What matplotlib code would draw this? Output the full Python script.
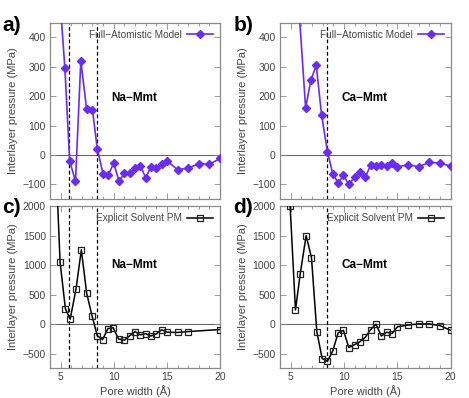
import matplotlib.pyplot as plt
from matplotlib.ticker import MultipleLocator

plt.rcParams['font.family'] = ['Liberation Sans', 'DejaVu Sans']

# Full-atomistic model, Na-Mmt
na_fa_x = [5.0, 5.4, 5.85, 6.4, 6.9, 7.45, 8.0, 8.45, 9.0, 9.5, 10.0, 10.5, 11.0, 11.5,
           12.0, 12.5, 13.0, 13.5, 14.0, 14.5, 15.0, 16.0, 17.0, 18.0, 19.0, 20.0]
na_fa_p = [500, 295, -20, -90, 320, 155, 153, 20, -65, -67, -28, -90, -62, -60,
           -46, -37, -77, -42, -46, -32, -20, -50, -45, -30, -32, -12]

# Full-atomistic model, Ca-Mmt
ca_fa_x = [5.4, 6.4, 6.9, 7.4, 7.9, 8.45, 8.95, 9.45, 9.95, 10.45, 11.0, 11.5, 12.0,
           12.5, 13.0, 13.5, 14.0, 14.5, 15.0, 16.0, 17.0, 18.0, 19.0, 20.0]
ca_fa_p = [700, 160, 255, 305, 135, 10, -65, -95, -70, -100, -75, -58, -75,
           -35, -37, -34, -36, -28, -40, -34, -40, -25, -28, -38]

# Explicit solvent PM, Na-Mmt
na_pm_x = [4.5, 4.95, 5.45, 5.9, 6.45, 6.95, 7.45, 7.95, 8.45, 8.95, 9.45, 9.95, 10.45,
           11.0, 11.5, 12.0, 12.5, 13.0, 13.5, 14.0, 14.5, 15.0, 16.0, 17.0, 20.0]
na_pm_p = [3000, 1050, 265, 90, 600, 1260, 530, 150, -190, -255, -70, -55, -245,
           -265, -190, -120, -175, -155, -195, -160, -90, -130, -135, -120, -85]

# Explicit solvent PM, Ca-Mmt
ca_pm_x = [4.95, 5.45, 5.9, 6.45, 6.95, 7.45, 7.95, 8.45, 8.95, 9.45, 9.95, 10.45, 11.0,
           11.5, 12.0, 12.5, 13.0, 13.5, 14.0, 14.5, 15.0, 16.0, 17.0, 18.0, 19.0, 20.0]
ca_pm_p = [2000, 245, 860, 1500, 1130, -120, -575, -620, -445, -140, -100, -390, -340,
           -290, -215, -85, 5, -195, -130, -155, -40, -10, 10, 10, -20, -100]

na_walls = [5.8, 8.45]
ca_walls = [8.45]

violet = '#6a2cf0'
frame_col = '#8a8a8a'
text_col = '#444444'

fig = plt.figure(figsize=(4.69, 3.98), dpi=100)
ax_a = fig.add_axes([0.1066, 0.500, 0.3625, 0.443])
ax_b = fig.add_axes([0.597, 0.500, 0.364, 0.443])
ax_c = fig.add_axes([0.1066, 0.0761, 0.3625, 0.4063])
ax_d = fig.add_axes([0.597, 0.0761, 0.364, 0.4063])


def style(ax, ylim, yticks, show_x):
    ax.set_xlim(4, 20)
    ax.set_ylim(*ylim)
    ax.set_yticks(yticks)
    ax.set_xticks([5, 10, 15, 20])
    ax.xaxis.set_minor_locator(MultipleLocator(1))
    ax.tick_params(which='both', direction='in', top=True, right=True,
                   colors=frame_col, labelcolor=text_col, labelsize=7.5, pad=3)
    ax.tick_params(which='major', length=4, width=0.6)
    ax.tick_params(which='minor', length=2, width=0.6)
    for s in ax.spines.values():
        s.set_color(frame_col)
        s.set_linewidth(0.9)
    if show_x:
        ax.set_xlabel('Pore width (Å)', fontsize=8, color=text_col, labelpad=2)
    else:
        ax.tick_params(labelbottom=False)
    ax.set_ylabel('Interlayer pressure (MPa)', fontsize=8, color=text_col, labelpad=3)
    ax.axhline(0, color='#666666', lw=0.8, zorder=1)


panels = [
    (ax_a, na_fa_x, na_fa_p, na_walls, 'Na−Mmt', True),
    (ax_b, ca_fa_x, ca_fa_p, ca_walls, 'Ca−Mmt', True),
    (ax_c, na_pm_x, na_pm_p, na_walls, 'Na−Mmt', False),
    (ax_d, ca_pm_x, ca_pm_p, ca_walls, 'Ca−Mmt', False),
]

for ax, x, p, walls, name, atomistic in panels:
    if atomistic:
        style(ax, (-150, 450), [-100, 0, 100, 200, 300, 400], False)
        ax.plot(x, p, color=violet, lw=1.2, marker='D', ms=4.5,
                label='Full−Atomistic Model', zorder=3)
        ax.text(11.9, 195, name, fontsize=8.5, fontweight='bold', ha='center', va='center')
    else:
        style(ax, (-730, 2000), [-500, 0, 500, 1000, 1500, 2000], True)
        ax.plot(x, p, color='black', lw=1.1, marker='s', ms=4.8, mfc='none', mec='#222222',
                mew=0.9, label='Explicit Solvent PM', zorder=3)
        ax.text(11.9, 1000, name, fontsize=8.5, fontweight='bold', ha='center', va='center')
    for w in walls:
        ax.axvline(w, color='black', lw=0.9, ls=(0, (3, 2)), zorder=2)
    ax.legend(loc='upper right', markerfirst=False, frameon=False, fontsize=7.2,
              handlelength=2.6, borderaxespad=0.3, borderpad=0.4, handletextpad=0.5,
              labelcolor=text_col)

fig.text(0.005, 0.935, 'a)', fontsize=15, fontweight='bold', va='center')
fig.text(0.497, 0.935, 'b)', fontsize=15, fontweight='bold', va='center')
fig.text(0.005, 0.478, 'c)', fontsize=15, fontweight='bold', va='center')
fig.text(0.497, 0.478, 'd)', fontsize=15, fontweight='bold', va='center')

fig.savefig('out.png', dpi=100)
